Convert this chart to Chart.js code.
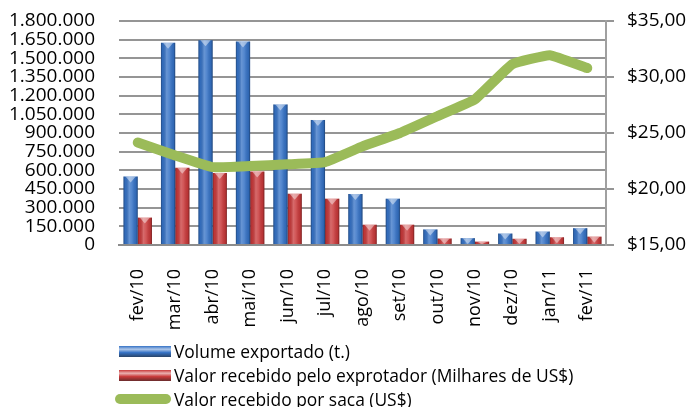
<!DOCTYPE html>
<html>
<head>
<meta charset="utf-8">
<script src="https://cdn.jsdelivr.net/npm/chart.js@4"></script>
<style>
  body { margin: 0; background: #fff; }
  #wrap { position: relative; width: 691px; height: 407px; }
  #legend { position: absolute; left: 115px; top: 339px; font-family: "Open Sans", sans-serif; font-size: 17.4px; color: #000; }
  .row { height: 24px; display: flex; align-items: center; white-space: nowrap; }
  .sw { width: 52px; height: 11px; margin-right: 3px; margin-left: 4px; }
  .ln { width: 56px; height: 10px; border-radius: 5px; margin-right: 3px; }
</style>
</head>
<body>
<div id="wrap">
  <canvas id="chart" width="691" height="407"></canvas>
  <div id="legend"></div>
</div>
<script>
const months = ["fev/10","mar/10","abr/10","mai/10","jun/10","jul/10","ago/10","set/10","out/10","nov/10","dez/10","jan/11","fev/11"];

const volume = [550000,1625000,1645000,1635000,1130000,1005000,410000,372000,125000,55000,92000,108000,135000];
const valor = [220000,620000,578000,590000,412000,372000,163000,163000,52000,27000,50000,62000,67000];
const porSaca = [24.15,23.0,21.95,22.05,22.2,22.4,23.8,25.0,26.5,28.0,31.15,31.95,30.8];

const labels = ["Volume exportado (t.)","Valor recebido pelo exprotador (Milhares de US$)","Valor recebido por saca (US$)"];

// brilho "3D" das barras, estilo Excel
const barShine = {
    id:"barShine",
    afterDatasetDraw(chart,args){
        const meta = args.meta;
        if(meta.type!=="bar") return;
        const c = chart.ctx;
        c.save();
        meta.data.forEach(bar=>{
            const p = bar.getProps(["x","y","base","width"],true);
            const l = p.x-p.width/2, w = p.width, h = p.base-p.y;
            const g = c.createLinearGradient(l,0,l+w,0);
            g.addColorStop(0,"rgba(0,0,0,0.35)");
            g.addColorStop(0.12,"rgba(0,0,0,0.05)");
            g.addColorStop(0.4,"rgba(255,255,255,0.25)");
            g.addColorStop(0.6,"rgba(255,255,255,0.14)");
            g.addColorStop(0.88,"rgba(0,0,0,0.08)");
            g.addColorStop(1,"rgba(0,0,0,0.4)");
            c.fillStyle = g;
            c.fillRect(l,p.y,w,h);
            // triangulo claro no topo
            c.fillStyle = "rgba(255,255,255,0.45)";
            c.beginPath();
            c.moveTo(l+2,p.y);
            c.lineTo(l+w-2,p.y);
            c.lineTo(p.x,p.y+Math.min(6,h));
            c.closePath();
            c.fill();
        });
        c.restore();
    }
};

Chart.defaults.font.family = "'Open Sans', sans-serif";
Chart.defaults.font.size = 18;
Chart.defaults.color = "#000";

const fmtMil = v => String(v).replace(/\B(?=(\d{3})+(?!\d))/g,".");
const fmtUsd = v => "$" + v.toFixed(2).replace(".",",");

const chart = new Chart(document.getElementById("chart"),{
    type:"bar",
    data:{
        labels:months,
        datasets:[
            {
                type:"line",
                label:labels[2],
                data:porSaca,
                yAxisID:"y1",
                borderColor:"#9BBB59",
                borderWidth:10,
                borderCapStyle:"round",
                borderJoinStyle:"round",
                pointRadius:0,
                tension:0.1,
                order:0
            },
            {
                label:labels[0],
                data:volume,
                yAxisID:"y",
                backgroundColor:"#3572C6",
                categoryPercentage:0.76,
                barPercentage:1,
                order:1
            },
            {
                label:labels[1],
                data:valor,
                yAxisID:"y",
                backgroundColor:"#C9393A",
                categoryPercentage:0.76,
                barPercentage:1,
                order:1
            }
        ]
    },
    options:{
        responsive:false,
        animation:false,
        layout:{ padding:{ top:21, left:0, right:0, bottom:0 } },
        plugins:{
            legend:{ display:false },
            tooltip:{ enabled:false }
        },
        scales:{
            x:{
                grid:{ display:false },
                border:{ color:"#8c8c8c", width:2 },
                ticks:{ minRotation:90, maxRotation:90, padding:16 },
                afterFit(s){ s.height = 162; }
            },
            y:{
                position:"left",
                min:0,
                max:1800000,
                grid:{ color:"#959595", lineWidth:2, drawTicks:false },
                border:{ display:false },
                ticks:{ stepSize:150000, autoSkip:false, padding:24, font:{ size:19 }, callback:v=>fmtMil(v) },
                afterFit(s){ s.width = 119; s.paddingTop = 0; s.paddingBottom = 0; }
            },
            y1:{
                position:"right",
                min:15,
                max:35,
                grid:{ drawOnChartArea:false, color:"#959595", lineWidth:2, tickLength:8 },
                border:{ color:"#a0a0a0", width:2 },
                ticks:{ stepSize:5, padding:13, font:{ size:19 }, callback:v=>fmtUsd(v) },
                afterFit(s){ s.width = 85; s.paddingTop = 0; s.paddingBottom = 0; }
            }
        }
    },
    plugins:[barShine]
});

// legenda HTML, uma entrada por linha
const leg = document.getElementById("legend");
const legendOrder = [1,2,0];
legendOrder.forEach(i=>{
    const ds = chart.data.datasets[i];
    const row = document.createElement("div");
    row.className = "row";
    const sw = document.createElement("div");
    if(ds.type==="line"){
        sw.className = "ln";
        sw.style.background = ds.borderColor;
    } else {
        sw.className = "sw";
        sw.style.background = "linear-gradient(to bottom," + ds.backgroundColor + " 0%, rgba(255,255,255,0.6) 30%," + ds.backgroundColor + " 60%, #222 130%)";
        sw.style.backgroundColor = ds.backgroundColor;
    }
    const tx = document.createElement("span");
    tx.textContent = ds.label;
    row.appendChild(sw);
    row.appendChild(tx);
    leg.appendChild(row);
});
</script>
</body>
</html>
